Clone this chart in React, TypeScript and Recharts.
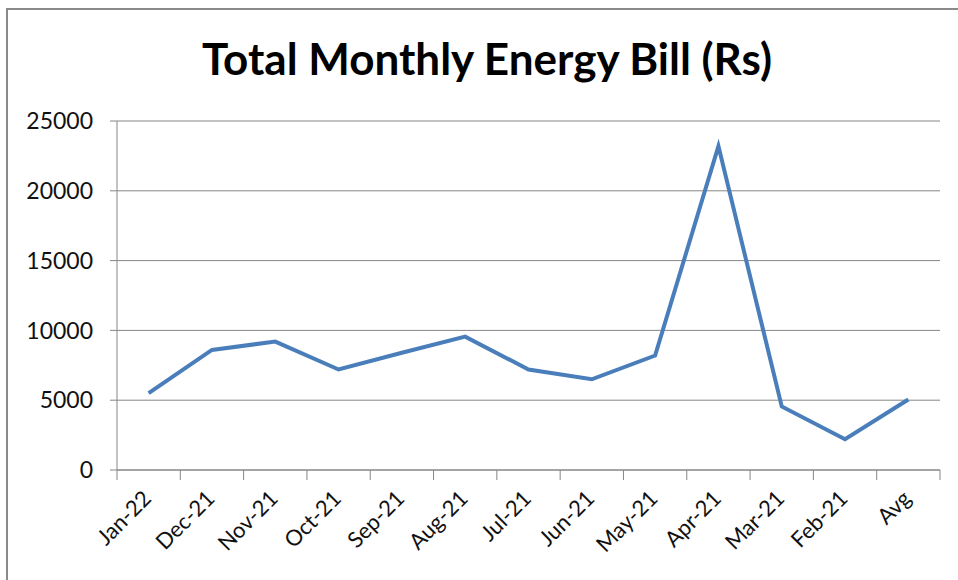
import React from "react";
import { LineChart, Line, XAxis, YAxis, CartesianGrid } from "recharts";

const categories = ["Jan-22", "Dec-21", "Nov-21", "Oct-21", "Sep-21", "Aug-21", "Jul-21", "Jun-21", "May-21", "Apr-21", "Mar-21", "Feb-21", "Avg"];
const billValues = [5500, 8600, 9200, 7200, 8400, 9550, 7200, 6500, 8200, 23200, 4550, 2200, 5050];
const yTicks = [0, 5000, 10000, 15000, 20000, 25000];
const title = "Total Monthly Energy Bill (Rs)";

const data = categories.map((c, i) => ({ name: c, value: billValues[i] }));

const W = 958;
const H = 580;
const FONT = "Lato, 'Open Sans', sans-serif";
const GRID = "#868686";
const PLOT_LEFT = 117;
const PLOT_RIGHT = 940;
const BAND = (PLOT_RIGHT - PLOT_LEFT) / categories.length;

const XTick = (props: any) => {
  const { x, y, payload, index } = props;
  const isLast = index === categories.length - 1;
  const ax = x + 4;
  const ay = y + 22;
  return (
    <g>
      <line x1={x - BAND / 2} x2={x - BAND / 2} y1={y - 8} y2={y + 2} stroke={GRID} strokeWidth={1} />
      {isLast && <line x1={x + BAND / 2} x2={x + BAND / 2} y1={y - 8} y2={y + 2} stroke={GRID} strokeWidth={1} />}
      <text
        x={ax}
        y={ay}
        textAnchor="end"
        fontFamily={FONT}
        fontSize={22}
        fill="#111"
        transform={`rotate(-45, ${ax}, ${ay})`}
      >
        {payload.value}
      </text>
    </g>
  );
};

export default function App() {
  return (
    <div style={{ position: "absolute", left: 0, top: 0, width: W, height: H, overflow: "hidden", background: "#fff" }}>
      <div
        style={{
          position: "absolute",
          left: 6,
          top: 8,
          width: 1000,
          height: 700,
          border: "2px solid #8a8a8a",
          boxSizing: "border-box",
        }}
      />
      <div
        style={{
          position: "absolute",
          left: 0,
          width: W,
          top: 28,
          textAlign: "center",
          fontFamily: FONT,
          fontWeight: 700,
          fontSize: 44,
          lineHeight: "60px",
          color: "#000",
          paddingLeft: 16,
          boxSizing: "border-box",
          whiteSpace: "nowrap",
        }}
      >
        {title}
      </div>
      <div style={{ position: "absolute", left: 0, top: 0 }}>
        <LineChart width={W} height={H} data={data} margin={{ top: 121, right: W - PLOT_RIGHT, bottom: 10, left: 0 }}>
          <CartesianGrid vertical={false} stroke={GRID} strokeWidth={1} />
          <XAxis
            dataKey="name"
            height={100}
            interval={0}
            padding={{ left: BAND / 2, right: BAND / 2 }}
            axisLine={{ stroke: GRID }}
            tickLine={false}
            tick={<XTick />}
          />
          <YAxis
            width={PLOT_LEFT}
            domain={[0, 25000]}
            ticks={yTicks}
            interval={0}
            axisLine={{ stroke: GRID }}
            tickLine={{ stroke: GRID }}
            tickSize={7}
            tickMargin={17}
            tick={{ fontFamily: FONT, fontSize: 23, fill: "#111" }}
          />
          <Line
            type="linear"
            dataKey="value"
            stroke="#4A7EBB"
            strokeWidth={4}
            dot={false}
            isAnimationActive={false}
          />
        </LineChart>
      </div>
    </div>
  );
}
